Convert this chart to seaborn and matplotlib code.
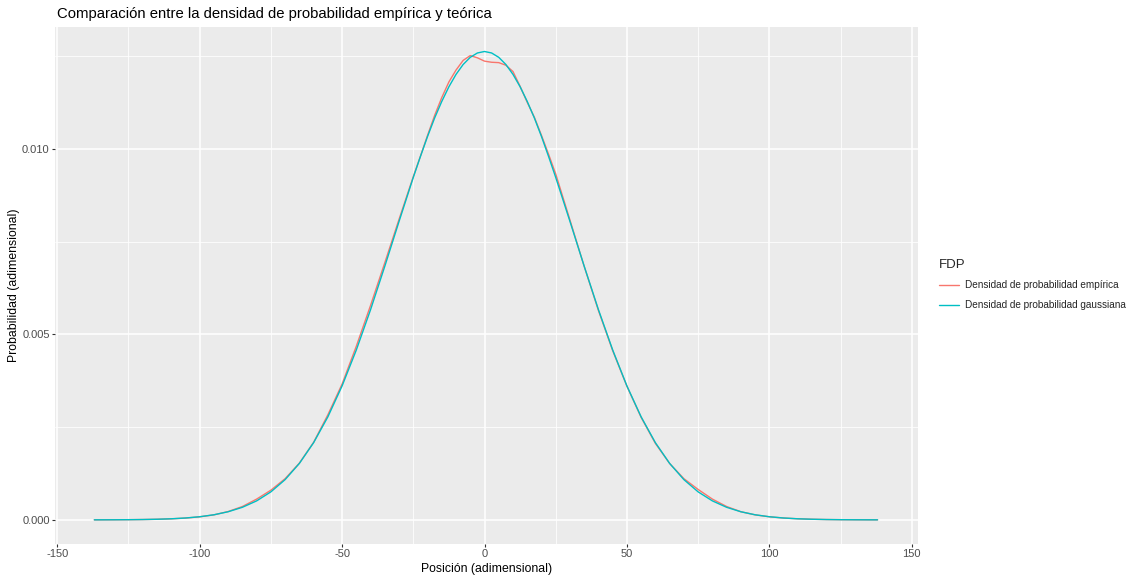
import numpy as np
import pandas as pd
import matplotlib
matplotlib.use("Agg")
import matplotlib.pyplot as plt
import seaborn as sns
from matplotlib.ticker import MultipleLocator
from matplotlib.lines import Line2D

# ---- data ----
x_emp = [-137, -135, -130, -125, -120, -115, -110, -105, -100, -95, -90, -85, -80, -75,
         -70, -65, -60, -55, -50, -45, -40, -35, -30, -25, -22.5, -20, -17.5, -15,
         -12.5, -10, -7.5, -5, -2.5, 0, 2.5, 5, 7.5, 10, 12.5, 15, 17.5, 20, 22.5, 25,
         30, 35, 40, 45, 50, 55, 60, 65, 70, 75, 80, 85, 90, 95, 100, 105, 110, 115,
         120, 125, 130, 135, 138]
y_emp = [0.000001, 0.0000015, 0.000003, 0.000005, 0.000009, 0.000016, 0.000028, 0.000048,
         0.000082, 0.000135, 0.000225, 0.000360, 0.000560, 0.000800, 0.001110, 0.001530,
         0.002090, 0.002830, 0.003660, 0.004680, 0.005780, 0.006930, 0.008100, 0.009250,
         0.009800, 0.010360, 0.010900, 0.011380, 0.011800, 0.012120, 0.012380, 0.012510,
         0.012450, 0.012360, 0.012330, 0.012320, 0.012250, 0.012080, 0.011680, 0.011250,
         0.010850, 0.010360, 0.009850, 0.009320, 0.008080, 0.006830, 0.005640, 0.004560,
         0.003600, 0.002760, 0.002060, 0.001520, 0.001110, 0.000820, 0.000560, 0.000360,
         0.000220, 0.000135, 0.000083, 0.000050, 0.000029, 0.000017, 0.000009, 0.000005,
         0.000003, 0.0000015, 0.000001]

x_gau = [-137, -135, -130, -125, -120, -115, -110, -105, -100, -95, -90, -85, -80, -75,
         -70, -65, -60, -55, -50, -45, -40, -35, -30, -25, -22.5, -20, -17.5, -15,
         -12.5, -10, -7.5, -5, -2.5, 0, 2.5, 5, 7.5, 10, 12.5, 15, 17.5, 20, 22.5, 25,
         30, 35, 40, 45, 50, 55, 60, 65, 70, 75, 80, 85, 90, 95, 100, 105, 110, 115,
         120, 125, 130, 135, 138]
y_gau = [0.000001, 0.0000014, 0.0000027, 0.000005, 0.0000093, 0.0000168, 0.0000295,
         0.0000505, 0.0000844, 0.0001376, 0.000219, 0.000339, 0.000512, 0.000755, 0.001085,
         0.001521, 0.002080, 0.002775, 0.003609, 0.004579, 0.005665, 0.006835, 0.008042,
         0.009228, 0.009790, 0.010330, 0.010830, 0.011275, 0.011670, 0.012003, 0.012270,
         0.012463, 0.012580, 0.012620, 0.012580, 0.012463, 0.012270, 0.012003, 0.011670,
         0.011275, 0.010830, 0.010330, 0.009790, 0.009228, 0.008042, 0.006835, 0.005665,
         0.004579, 0.003609, 0.002775, 0.002080, 0.001521, 0.001085, 0.000755, 0.000512,
         0.000339, 0.000219, 0.0001376, 0.0000844, 0.0000505, 0.0000295, 0.0000168,
         0.0000093, 0.000005, 0.0000027, 0.0000014, 0.000001]

series_names = ["Densidad de probabilidad empírica", "Densidad de probabilidad gaussiana"]
series_colors = ["#F8766D", "#00BFC4"]
x_ticks = [-150, -100, -50, 0, 50, 100, 150]
y_ticks = [0.0, 0.005, 0.010]
y_tick_labels = ["0.000", "0.005", "0.010"]

df = pd.concat([
    pd.DataFrame({"x": x_emp, "y": y_emp, "FDP": series_names[0]}),
    pd.DataFrame({"x": x_gau, "y": y_gau, "FDP": series_names[1]}),
], ignore_index=True)

sns.set_theme(style="darkgrid")
plt.rcParams["font.family"] = ["Liberation Sans", "DejaVu Sans"]

fig = plt.figure(figsize=(11.29, 5.77), dpi=100)
ax = fig.add_axes([55 / 1129, 1 - 544 / 577, (918 - 55) / 1129, (544 - 27) / 577])
ax.set_facecolor("#EBEBEB")

sns.lineplot(data=df, x="x", y="y", hue="FDP", palette=dict(zip(series_names, series_colors)),
             sort=False, estimator=None, linewidth=1.0, ax=ax, legend=False)

ax.set_xlim(-150.8, 152.2)
ax.set_ylim(-0.00065, 0.01328)
ax.xaxis.set_minor_locator(MultipleLocator(25))
ax.yaxis.set_minor_locator(MultipleLocator(0.0025))
ax.set_yticks(y_ticks)
ax.set_yticklabels(y_tick_labels)
ax.set_xticks(x_ticks)
ax.set_xticklabels([str(t) for t in x_ticks])
ax.grid(which="major", color="white", linewidth=1.1)
ax.grid(which="minor", color="white", linewidth=0.55)
for s in ax.spines.values():
    s.set_visible(False)
ax.tick_params(axis="both", which="major", length=2.3, width=0.8, color="#333333",
               labelsize=8, labelcolor="#4D4D4D", pad=1.5, bottom=True, left=True)
ax.tick_params(which="minor", length=0)

ax.set_xlabel("Posición (adimensional)", fontsize=8.8, color="black", labelpad=3)
ax.set_ylabel("Probabilidad (adimensional)", fontsize=8.8, color="black", labelpad=1.5)
fig.text(57 / 1129, 1 - 14 / 577, "Comparación entre la densidad de probabilidad empírica y teórica",
         fontsize=10.7, ha="left", va="center", color="black")

handles = [Line2D([], [], color=c, lw=1.0) for c in series_colors]
leg = fig.legend(handles, series_names, title="FDP", loc="upper left",
                 bbox_to_anchor=(935 / 1129, 1 - 255 / 577), frameon=False,
                 fontsize=7.2, title_fontsize=9.5, handlelength=2.0, handletextpad=0.6,
                 labelspacing=0.95, borderaxespad=0)
leg._legend_box.align = "left"

fig.savefig("out.png", dpi=100, facecolor="white")
